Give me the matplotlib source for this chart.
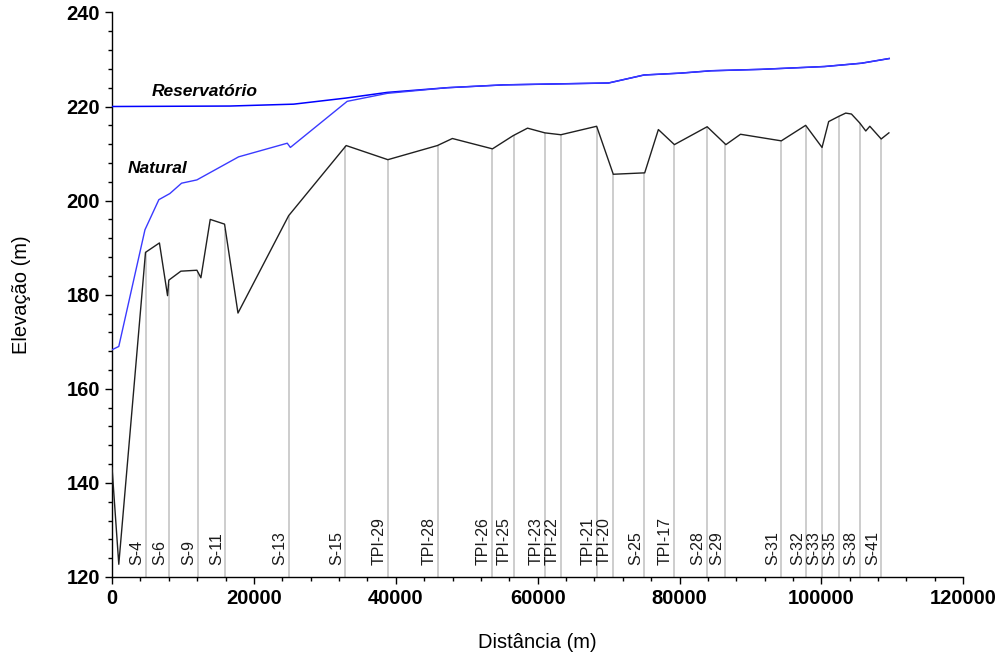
import matplotlib
matplotlib.use("Agg")
import matplotlib.pyplot as plt
from matplotlib.ticker import MultipleLocator
import numpy as np

plt.rcParams['font.family'] = ['Liberation Sans', 'DejaVu Sans']

# Natural bed profile (black)
bed_x = [0, 950, 4717, 6680, 7825, 8008, 9703, 11963, 12528, 13842, 15862, 17754,
         24900, 33008, 38884, 45862, 47980, 53630, 56540, 58573, 61017, 63277,
         68320, 70663, 75093, 77020, 79280, 83898, 86540, 88600, 94350, 97786,
         100094, 101030, 102445, 103430, 104240, 105410, 106260, 106830, 108432, 109520]
bed_y = [143.2, 122.7, 189.0, 191.0, 179.8, 183.1, 185.0, 185.2, 183.6, 196.0, 195.0, 176.1,
         196.8, 211.7, 208.7, 211.7, 213.2, 211.0, 213.8, 215.4, 214.4, 214.0,
         215.8, 205.6, 205.9, 215.1, 211.9, 215.7, 211.9, 214.1, 212.7, 216.0,
         211.3, 216.8, 217.9, 218.6, 218.4, 216.5, 214.8, 215.8, 213.1, 214.4]

# Water surface - natural condition (blue)
nat_x = [0, 950, 4640, 6600, 8150, 9800, 11960, 17840, 24700, 25140, 33150, 38800,
         47270, 55200, 70000, 75000, 80200, 84460, 91500, 100450, 105650, 109560]
nat_y = [168.3, 169.0, 193.8, 200.2, 201.5, 203.7, 204.4, 209.3, 212.2, 211.3, 221.1, 222.8,
         224.0, 224.6, 225.0, 226.7, 227.1, 227.6, 227.9, 228.5, 229.2, 230.2]

# Water surface - reservoir (blue)
res_x = [0, 16600, 25600, 33000, 38800, 47270, 55200, 70000, 75000, 80200, 84460,
         91500, 100450, 105650, 109560]
res_y = [220.0, 220.1, 220.5, 221.8, 223.0, 224.0, 224.6, 225.0, 226.7, 227.1, 227.6,
         227.9, 228.5, 229.2, 230.2]

# Stations
st_names = ['S-4', 'S-6', 'S-9', 'S-11', 'S-13', 'S-15', 'TPI-29', 'TPI-28', 'TPI-26',
            'TPI-25', 'TPI-23', 'TPI-22', 'TPI-21', 'TPI-20', 'S-25', 'TPI-17', 'S-28',
            'S-29', 'S-31', 'S-32', 'S-33', 'S-35', 'S-38', 'S-41']
st_x = [4750, 7960, 12100, 15960, 24900, 32900, 38880, 45950, 53630, 56600, 61010,
        63260, 68360, 70670, 75040, 79280, 83900, 86480, 94350, 97880, 100140, 102440,
        105410, 108450]

fig = plt.figure(figsize=(10.04, 6.57), dpi=100)
ax = fig.add_axes([0.1116, 0.1218, 0.8478, 0.8593])

st_top = np.interp(st_x, bed_x, bed_y)
ax.vlines(st_x, 120, st_top, colors='#cdcdcd', linewidth=1.4, zorder=1)
for name, x in zip(st_names, st_x):
    ax.text(x - 200, 122.6, name, rotation=90, ha='right', va='bottom',
            fontsize=11.5, color='#1a1a1a', zorder=2)

ax.plot(res_x, res_y, color='#0000ff', linewidth=1.1, zorder=3)
ax.plot(nat_x, nat_y, color='#3a3aff', linewidth=1.0, zorder=3)
ax.plot(bed_x, bed_y, color='#202020', linewidth=1.0, zorder=4)

ax.text(5650, 223.1, 'Reservatório', fontsize=12.5, fontstyle='italic',
        fontweight='bold', ha='left', va='center')
ax.text(2260, 206.9, 'Natural', fontsize=12.5, fontstyle='italic',
        fontweight='bold', ha='left', va='center')

ax.set_xlim(0, 120000)
ax.set_ylim(120, 240)
ax.xaxis.set_major_locator(MultipleLocator(20000))
ax.xaxis.set_minor_locator(MultipleLocator(4000))
ax.yaxis.set_major_locator(MultipleLocator(20))
ax.yaxis.set_minor_locator(MultipleLocator(4))
ax.spines['top'].set_visible(False)
ax.spines['right'].set_visible(False)
for s in ('left', 'bottom'):
    ax.spines[s].set_linewidth(1.0)
ax.tick_params(which='major', length=5, width=1.0, direction='out')
ax.tick_params(which='minor', length=3, width=1.0, direction='out')
for lab in ax.get_xticklabels() + ax.get_yticklabels():
    lab.set_fontweight('bold')
    lab.set_fontsize(14.5)

ax.set_xlabel('Distância (m)', fontsize=14.5, labelpad=18)
ax.set_ylabel('Elevação (m)', fontsize=14.5, labelpad=26)

fig.savefig('out.png', dpi=100)
